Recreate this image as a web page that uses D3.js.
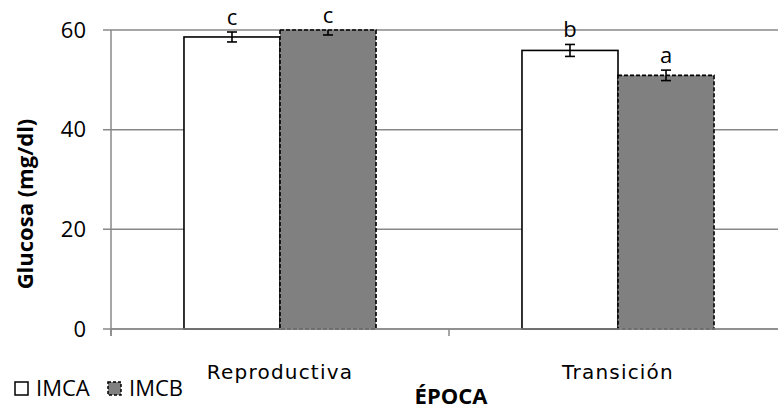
<html>
<head>
<script src="https://d3js.org/d3.v7.min.js"></script>
<style>
  body { margin: 0; background: white; }
  text { font-family: "Open Sans", sans-serif; fill: black; }
</style>
</head>
<body>
<svg width="778" height="410"></svg>
<script>
const epocas = ["Reproductiva", "Transición"]
const grupos = ["IMCA", "IMCB"]
const IMCA = [58.6, 55.9]
const IMCB = [60.3, 50.9]
const errIMCA = [1.0, 1.2]
const errIMCB = [1.3, 1.05]
const letrasIMCA = ["c", "b"]
const letrasIMCB = ["c", "a"]
const yTicks = [0, 20, 40, 60]

const svg = d3.select("svg")
const pLeft = 111, pRight = 787, pTop = 30, pBottom = 329

var x0 = d3.scaleBand().domain(epocas).range([pLeft, pRight])
var x1 = d3.scaleBand().domain(grupos).range([0, x0.bandwidth()]).paddingOuter(0.76)
var y = d3.scaleLinear().domain([0, 60]).range([pBottom, pTop]).clamp(true)
var yRaw = d3.scaleLinear().domain([0, 60]).range([pBottom, pTop])

svg.append("defs").append("clipPath").attr("id", "plot")
  .append("rect").attr("x", pLeft - 10).attr("y", pTop).attr("width", pRight - pLeft + 20).attr("height", pBottom - pTop)

// gridlines + y ticks
svg.append("g").selectAll("line").data(yTicks).enter().append("line")
  .attr("x1", pLeft - 8).attr("x2", pRight)
  .attr("y1", d => y(d)).attr("y2", d => y(d))
  .style("stroke", "#888").style("stroke-width", 1.5)
svg.append("g").selectAll("text").data(yTicks).enter().append("text")
  .attr("x", pLeft - 25).attr("y", d => y(d)).attr("dy", "0.35em")
  .attr("text-anchor", "end").style("font-size", "22px")
  .text(d => d)
svg.append("line").attr("x1", pLeft).attr("x2", pLeft).attr("y1", pTop).attr("y2", pBottom + 7)
  .style("stroke", "#888").style("stroke-width", 1.5)

const rows = []
epocas.forEach((e, i) => {
  rows.push({ep: e, g: "IMCA", v: IMCA[i], err: errIMCA[i], l: letrasIMCA[i]})
  rows.push({ep: e, g: "IMCB", v: IMCB[i], err: errIMCB[i], l: letrasIMCB[i]})
})
const bx = d => x0(d.ep) + x1(d.g)

svg.append("g").selectAll("rect").data(rows).enter().append("rect")
  .attr("x", bx).attr("width", x1.bandwidth())
  .attr("y", d => y(d.v)).attr("height", d => pBottom - y(d.v))
  .style("fill", d => d.g == "IMCA" ? "white" : "#808080")
  .style("stroke", "black").style("stroke-width", 1.6)
  .style("stroke-dasharray", d => d.g == "IMCA" ? null : "4,2")

// x axis line and ticks
svg.append("line").attr("x1", pLeft).attr("x2", pRight).attr("y1", pBottom).attr("y2", pBottom)
  .style("stroke", "#888").style("stroke-width", 1.5)
svg.append("g").selectAll("line").data(epocas).enter().append("line")
  .attr("x1", d => x0(d)).attr("x2", d => x0(d)).attr("y1", pBottom).attr("y2", pBottom + 7)
  .style("stroke", "#888").style("stroke-width", 1.5)

// error bars
const eb = svg.append("g").attr("clip-path", "url(#plot)")
rows.forEach(d => {
  const cx = bx(d) + x1.bandwidth() / 2
  const y1 = yRaw(d.v + d.err)
  const y2 = yRaw(d.v - d.err)
  eb.append("line").attr("x1", cx).attr("x2", cx).attr("y1", y1).attr("y2", y2)
  eb.append("line").attr("x1", cx - 5).attr("x2", cx + 5).attr("y1", y1).attr("y2", y1)
  eb.append("line").attr("x1", cx - 5).attr("x2", cx + 5).attr("y1", y2).attr("y2", y2)
})
eb.selectAll("line").style("stroke", "black").style("stroke-width", 1.6)

// letters
svg.append("g").selectAll("text").data(rows).enter().append("text")
  .attr("x", d => bx(d) + x1.bandwidth() / 2)
  .attr("y", d => y(d.v + d.err) - 7)
  .attr("text-anchor", "middle").style("font-size", "22px")
  .text(d => d.l)

// category labels
svg.append("g").selectAll("text").data(epocas).enter().append("text")
  .attr("x", d => x0(d) + x0.bandwidth() / 2).attr("y", 379)
  .attr("text-anchor", "middle")
  .style("font-family", "DejaVu Sans").style("font-size", "20px").style("letter-spacing", "1.2px")
  .text(d => d)

svg.append("text").attr("x", (pLeft + pRight) / 2 + 2).attr("y", 404)
  .attr("text-anchor", "middle").style("font-size", "22px").style("font-weight", "bold")
  .text("ÉPOCA")

svg.append("text").attr("transform", "translate(33,204) rotate(-90)")
  .attr("text-anchor", "middle").style("font-size", "22px").style("font-weight", "bold")
  .text("Glucosa (mg/dl)")

// legend
const leg = svg.append("g")
const legX = [15, 108]
grupos.forEach((g, i) => {
  leg.append("rect").attr("x", legX[i]).attr("y", 382).attr("width", 13).attr("height", 13)
    .style("fill", i == 0 ? "white" : "#808080").style("stroke", "black").style("stroke-width", 1.5)
    .style("stroke-dasharray", i == 0 ? null : "3,2")
  leg.append("text").attr("x", legX[i] + 21).attr("y", 396).style("font-size", "22px").text(g)
})
</script>
</body>
</html>
